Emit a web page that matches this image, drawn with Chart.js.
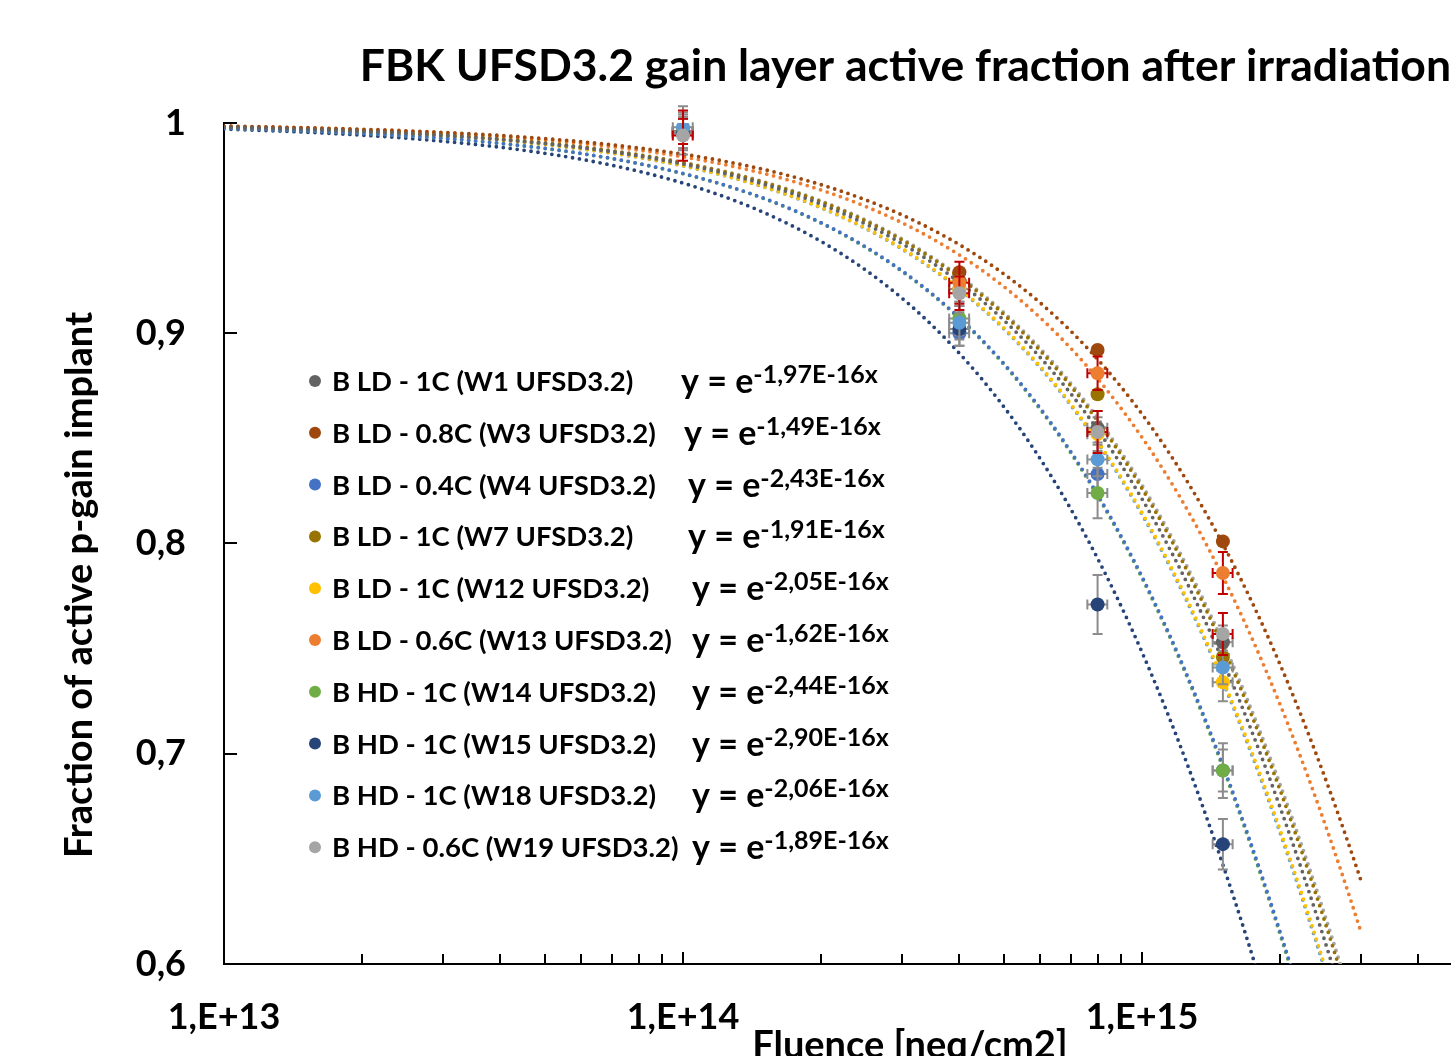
<!DOCTYPE html>
<html>
<head>
<meta charset="utf-8">
<script src="https://cdn.jsdelivr.net/npm/chart.js@4.4.1/dist/chart.umd.min.js"></script>
<style>
  html, body { margin: 0; padding: 0; background: #fff; }
  #wrap { width: 1451px; height: 1056px; overflow: hidden; }
</style>
</head>
<body>
<div id="wrap"><canvas id="chart" width="1451" height="1056"></canvas></div>
<script>
// measured fluences [neq/cm2] and relative fluence uncertainty
const fluence = [1e14, 4e14, 8e14, 1.5e15];
const fluenceErr = [0.05, 0.05, 0.05, 0.05];

const seriesNames = [
    "B LD - 1C (W1 UFSD3.2)",
    "B LD - 0.8C (W3 UFSD3.2)",
    "B LD - 0.4C (W4 UFSD3.2)",
    "B LD - 1C (W7 UFSD3.2)",
    "B LD - 1C (W12 UFSD3.2)",
    "B LD - 0.6C (W13 UFSD3.2)",
    "B HD - 1C (W14 UFSD3.2)",
    "B HD - 1C (W15 UFSD3.2)",
    "B HD - 1C (W18 UFSD3.2)",
    "B HD - 0.6C (W19 UFSD3.2)",
];
const seriesColors = ["#636363", "#9e480e", "#4472c4", "#997300", "#ffc000",
    "#ed7d31", "#70ad47", "#264478", "#5b9bd5", "#a5a5a5"];
// null = no error bars shown for that series
const errColors = ["#8c8c8c", null, "#8c8c8c", null, "#8c8c8c",
    "#c00000", "#8c8c8c", "#8c8c8c", "#8c8c8c", "#c00000"];

// exponential fit y = exp(-k * fluence), k as printed in the legend
const fitK = [1.97e-16, 1.49e-16, 2.43e-16, 1.91e-16, 2.05e-16, 1.62e-16, 2.44e-16, 2.90e-16, 2.06e-16, 1.89e-16];
const fitText = ["-1,97E-16x", "-1,49E-16x", "-2,43E-16x", "-1,91E-16x", "-2,05E-16x",
    "-1,62E-16x", "-2,44E-16x", "-2,90E-16x", "-2,06E-16x", "-1,89E-16x"];
const fitStart = 1e13;
const fitEnd = 3e15;

// active fraction at each fluence
const w1 = [0.995, 0.921, 0.855, 0.753];
const w3 = [0.996, 0.929, 0.892, 0.801];
const w4 = [0.996, 0.900, 0.833, 0.692];
const w7 = [0.996, 0.925, 0.871, 0.746];
const w12 = [0.996, 0.921, 0.852, 0.734];
const w13 = [0.996, 0.924, 0.881, 0.786];
const w14 = [0.996, 0.907, 0.824, 0.692];
const w15 = [0.995, 0.902, 0.771, 0.657];
const w18 = [0.998, 0.905, 0.840, 0.741];
const w19 = [0.994, 0.919, 0.853, 0.757];
const seriesValues = [w1, w3, w4, w7, w12, w13, w14, w15, w18, w19];

// uncertainty on the active fraction
const e1 = [0.010, 0.008, 0.008, 0.008];
const e3 = [0, 0, 0, 0];
const e4 = [0.006, 0.006, 0.008, 0.010];
const e7 = [0, 0, 0, 0];
const e12 = [0.006, 0.006, 0.008, 0.009];
const e13 = [0.006, 0.010, 0.008, 0.010];
const e14 = [0.008, 0.008, 0.012, 0.013];
const e15 = [0.008, 0.008, 0.014, 0.012];
const e18 = [0.010, 0.008, 0.008, 0.008];
const e19 = [0.012, 0.008, 0.010, 0.010];
const seriesErrors = [e1, e3, e4, e7, e12, e13, e14, e15, e18, e19];

const yTicks = [0.6, 0.7, 0.8, 0.9, 1];
const xTicks = [1e13, 1e14, 1e15];
const xMin = 1e13;
const xMax = 4.71e15;

const FONT = "Lato";

function fitPoints(k) {
    const pts = [];
    const n = 150;
    const span = Math.log10(fitEnd / fitStart);
    for (let i = 0; i <= n; i++) {
        const x = fitStart * Math.pow(10, (i * span) / n);
        pts.push({ x: x, y: Math.exp(-k * x) });
    }
    return pts;
}

const datasets = [];
seriesNames.forEach((name, i) => {
    datasets.push({
        type: "scatter",
        label: name,
        data: fluence.map((f, j) => ({ x: f, y: seriesValues[i][j] })),
        errY: seriesErrors[i],
        errColor: errColors[i],
        backgroundColor: seriesColors[i],
        borderColor: seriesColors[i],
        pointRadius: 7,
        pointBorderWidth: 0,
        order: 10 - i,
    });
});
seriesNames.forEach((name, i) => {
    datasets.push({
        type: "line",
        label: "fit " + name,
        data: fitPoints(fitK[i]),
        borderColor: seriesColors[i],
        borderWidth: 3.8,
        borderDash: [0, 7],
        borderCapStyle: "round",
        pointRadius: 0,
        tension: 0,
        fill: false,
        order: 20 + i,
    });
});

const errorBars = {
    id: "errorBars",
    beforeDatasetDraw(chart, args) {
        const ds = chart.data.datasets[args.index];
        if (!ds.errY || !ds.errColor) return;
        const { ctx, scales: { x, y } } = chart;
        ctx.save();
        ctx.strokeStyle = ds.errColor;
        ctx.lineWidth = 2;
        ds.data.forEach((p, j) => {
            const px = x.getPixelForValue(p.x);
            const py = y.getPixelForValue(p.y);
            const y0 = y.getPixelForValue(p.y - ds.errY[j]);
            const y1 = y.getPixelForValue(p.y + ds.errY[j]);
            const x0 = x.getPixelForValue(p.x * (1 - fluenceErr[j]));
            const x1 = x.getPixelForValue(p.x * (1 + fluenceErr[j]));
            ctx.beginPath();
            ctx.moveTo(px, y0); ctx.lineTo(px, y1);
            ctx.moveTo(px - 5, y0); ctx.lineTo(px + 5, y0);
            ctx.moveTo(px - 5, y1); ctx.lineTo(px + 5, y1);
            ctx.moveTo(x0, py); ctx.lineTo(x1, py);
            ctx.moveTo(x0, py - 5); ctx.lineTo(x0, py + 5);
            ctx.moveTo(x1, py - 5); ctx.lineTo(x1, py + 5);
            ctx.stroke();
        });
        ctx.restore();
    },
};

// legend rows and axis decorations
const legendMarkX = 315;
const legendTextX = 332;
const legendRowY = 381;
const legendStep = 51.8;
const eqX = [681, 684, 688, 688, 692, 692, 692, 692, 692, 692];

const decorations = {
    id: "decorations",
    afterDraw(chart) {
        const { ctx, chartArea: a, scales: { x, y } } = chart;
        ctx.save();
        // inward tick marks
        ctx.strokeStyle = "#000";
        ctx.lineWidth = 2;
        ctx.beginPath();
        yTicks.forEach(v => {
            const py = Math.round(y.getPixelForValue(v));
            ctx.moveTo(a.left, py); ctx.lineTo(a.left + 13, py);
        });
        for (let d = 1e13; d < xMax; d *= 10) {
            for (let m = 1; m <= 9; m++) {
                const v = d * m;
                if (v <= xMin || v > xMax) continue;
                const px = Math.round(x.getPixelForValue(v));
                const len = m === 1 ? 12 : 10;
                ctx.moveTo(px, a.bottom); ctx.lineTo(px, a.bottom - len);
            }
        }
        ctx.stroke();

        // axis titles
        ctx.fillStyle = "#000";
        ctx.font = "bold 38px " + FONT;
        ctx.textAlign = "center";
        ctx.textBaseline = "alphabetic";
        ctx.fillText("Fluence [neq/cm2]", 910, 1058);
        ctx.textBaseline = "middle";
        ctx.translate(80, 585);
        ctx.rotate(-Math.PI / 2);
        ctx.fillText("Fraction of active p-gain implant", 0, 0);
        ctx.setTransform(1, 0, 0, 1, 0, 0);

        // legend with fit equations
        seriesNames.forEach((name, i) => {
            const ry = legendRowY + i * legendStep;
            ctx.fillStyle = seriesColors[i];
            ctx.beginPath();
            ctx.arc(legendMarkX, ry, 6, 0, Math.PI * 2);
            ctx.fill();
            ctx.fillStyle = "#000";
            ctx.textAlign = "left";
            ctx.textBaseline = "alphabetic";
            ctx.font = "bold 27.5px " + FONT;
            ctx.fillText(name, legendTextX, ry + 10);
            ctx.font = "bold 34px " + FONT;
            const base = "y = e";
            ctx.fillText(base, eqX[i], ry + 12);
            const w = ctx.measureText(base).width;
            ctx.font = "bold 25px " + FONT;
            ctx.fillText(fitText[i], eqX[i] + w, ry + 2);
        });
        ctx.restore();
    },
};

new Chart(document.getElementById("chart"), {
    data: { datasets: datasets },
    options: {
        responsive: false,
        animation: false,
        devicePixelRatio: 1,
        layout: { padding: 0, autoPadding: false },
        plugins: {
            legend: { display: false },
            tooltip: { enabled: false },
            title: {
                display: true,
                text: "FBK UFSD3.2 gain layer active fraction after irradiation",
                align: "end",
                color: "#000",
                font: { family: FONT, size: 44.5, weight: "bold", lineHeight: 1.2 },
                padding: { top: 40, bottom: 29.6 },
            },
        },
        scales: {
            x: {
                type: "logarithmic",
                min: xMin,
                max: xMax,
                afterFit(s) { s.height = 92; },
                afterBuildTicks(s) { s.ticks = xTicks.map(v => ({ value: v, major: true })); },
                grid: { drawOnChartArea: false, drawTicks: false },
                border: { display: true, color: "#000", width: 2 },
                ticks: {
                    autoSkip: false,
                    maxRotation: 0,
                    padding: 32,
                    color: "#000",
                    font: { family: FONT, size: 36, weight: "bold" },
                    callback: v => "1,E+" + Math.round(Math.log10(v)),
                },
            },
            y: {
                type: "linear",
                min: 0.6,
                max: 1,
                afterFit(s) { s.width = 224; },
                afterBuildTicks(s) { s.ticks = yTicks.map(v => ({ value: v })); },
                grid: { drawOnChartArea: false, drawTicks: false },
                border: { display: true, color: "#000", width: 2 },
                ticks: {
                    padding: 38,
                    color: "#000",
                    font: { family: FONT, size: 36, weight: "bold" },
                    callback: v => (v === 1 ? "1" : v.toFixed(1).replace(".", ",")),
                },
            },
        },
    },
    plugins: [errorBars, decorations],
});
</script>
</body>
</html>
